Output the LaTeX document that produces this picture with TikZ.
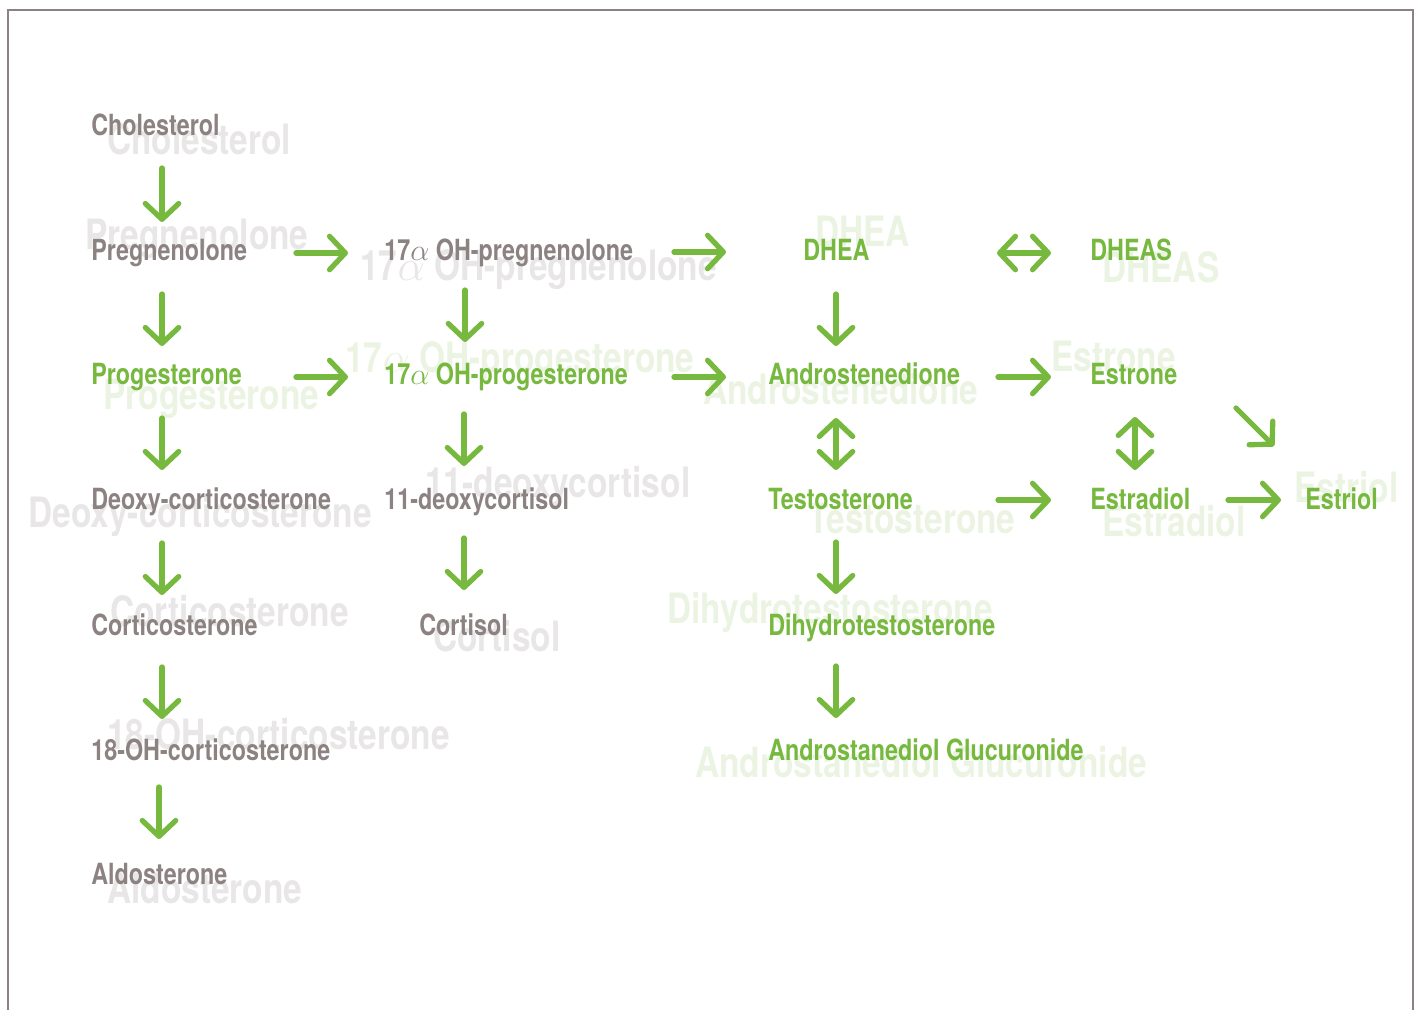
\documentclass[tikz,border=0pt]{standalone}
\usepackage{fontspec}
\usepackage{xcolor}
\usepackage{tikz}
\usetikzlibrary{arrows.meta}
\newfontfamily\chemfont[FakeStretch=0.8]{TeX Gyre Heros}
\definecolor{txtgray}{HTML}{8B8281}
\definecolor{txtgreen}{HTML}{77B83F}
\definecolor{ghostgray}{HTML}{E8E6E6}
\definecolor{ghostgreen}{HTML}{EBF4E2}
\tikzset{lbl/.style={anchor=base west,inner sep=0pt,font=\chemfont\bfseries\fontsize{16.6}{18}\selectfont},
  ghost/.style={anchor=base west,inner sep=0pt,font=\chemfont\bfseries\fontsize{23.8}{26}\selectfont},
  flow/.style={->,draw=txtgreen,line width=3pt,line cap=round},
  both/.style={<->,draw=txtgreen,line width=3pt,line cap=round}}

\begin{document}
\begin{tikzpicture}[x=0.02cm,y=-0.02cm,>={Straight Barb[length=9pt,width=19pt,line cap=round,line join=round]}]
    \useasboundingbox (0,0) rectangle (1418,1010);
    \draw [txtgray,line width=0.8pt] (8,1010) -- (8,10) -- (1413,10) -- (1413,1010);

    % faint names behind
    \node[ghost,ghostgray] (cholbg) at (107,155) {Cholesterol};
    \node[ghost,ghostgray] (pregbg) at (85,250) {Pregnenolone};
    \node[ghost,ghostgray] (ohpregbg) at (360,281) {17$\alpha$ OH-pregnenolone};
    \node[ghost,ghostgreen] (dheabg) at (815,247) {DHEA};
    \node[ghost,ghostgreen] (dheasbg) at (1102,283) {DHEAS};
    \node[ghost,ghostgreen] (progbg) at (103,410) {Progesterone};
    \node[ghost,ghostgreen] (ohprogbg) at (345,373) {17$\alpha$ OH-progesterone};
    \node[ghost,ghostgreen] (androbg) at (703,405) {Androstenedione};
    \node[ghost,ghostgreen] (estronebg) at (1051,372) {Estrone};
    \node[ghost,ghostgray] (docbg) at (28,527) {Deoxy-corticosterone};
    \node[ghost,ghostgray] (deoxcortbg) at (425,498) {11-deoxycortisol};
    \node[ghost,ghostgreen] (testobg) at (808,534) {Testosterone};
    \node[ghost,ghostgreen] (estradiolbg) at (1102,537) {Estradiol};
    \node[ghost,ghostgreen] (estriolbg) at (1294,502) {Estriol};
    \node[ghost,ghostgray] (corticobg) at (110,626) {Corticosterone};
    \node[ghost,ghostgray] (cortisolbg) at (433,651) {Cortisol};
    \node[ghost,ghostgreen] (dhtbg) at (667,623) {Dihydrotestosterone};
    \node[ghost,ghostgray] (ohcortbg) at (107,749) {18-OH-corticosterone};
    \node[ghost,ghostgreen] (aglucbg) at (695,777) {Androstanediol Glucuronide};
    \node[ghost,ghostgray] (aldobg) at (107,903) {Aldosterone};

    % names
    \node[lbl,txtgray] (chol) at (91,136) {Cholesterol};
    \node[lbl,txtgray] (preg) at (91,261) {Pregnenolone};
    \node[lbl,txtgray] (ohpreg) at (384,261) {17$\alpha$ OH-pregnenolone};
    \node[lbl,txtgreen] (dhea) at (803,261) {DHEA};
    \node[lbl,txtgreen] (dheas) at (1090,261) {DHEAS};
    \node[lbl,txtgreen] (prog) at (91,385) {Progesterone};
    \node[lbl,txtgreen] (ohprog) at (384,385) {17$\alpha$ OH-progesterone};
    \node[lbl,txtgreen] (andro) at (768,385) {Androstenedione};
    \node[lbl,txtgreen] (estrone) at (1090,385) {Estrone};
    \node[lbl,txtgray] (doc) at (91,510) {Deoxy-corticosterone};
    \node[lbl,txtgray] (deoxcort) at (384,510) {11-deoxycortisol};
    \node[lbl,txtgreen] (testo) at (768,510) {Testosterone};
    \node[lbl,txtgreen] (estradiol) at (1090,510) {Estradiol};
    \node[lbl,txtgreen] (estriol) at (1305,510) {Estriol};
    \node[lbl,txtgray] (cortico) at (91,635) {Corticosterone};
    \node[lbl,txtgray] (cortisol) at (419,635) {Cortisol};
    \node[lbl,txtgreen] (dht) at (768,635) {Dihydrotestosterone};
    \node[lbl,txtgray] (ohcort) at (91,760) {18-OH-corticosterone};
    \node[lbl,txtgreen] (agluc) at (768,760) {Androstanediol Glucuronide};
    \node[lbl,txtgray] (aldo) at (91,884) {Aldosterone};

    % arrows
    \draw [flow] ([shift={(71,32)}]chol.base west) -- ([shift={(71,-39)}]preg.base west);
    \draw [flow] ([shift={(71,33)}]preg.base west) -- ([shift={(71,-39)}]prog.base west);
    \draw [flow] ([shift={(71,33)}]prog.base west) -- ([shift={(71,-40)}]doc.base west);
    \draw [flow] ([shift={(71,33)}]doc.base west) -- ([shift={(71,-40)}]cortico.base west);
    \draw [flow] ([shift={(71,32)}]cortico.base west) -- ([shift={(71,-41)}]ohcort.base west);
    \draw [flow] ([shift={(68,27)}]ohcort.base west) -- ([shift={(68,-45)}]aldo.base west);
    \draw [flow] ([shift={(81,29)}]ohpreg.base west) -- ([shift={(81,-43)}]ohprog.base west);
    \draw [flow] ([shift={(80,29)}]ohprog.base west) -- ([shift={(80,-44)}]deoxcort.base west);
    \draw [flow] ([shift={(80,28)}]deoxcort.base west) -- ([shift={(45,-45)}]cortisol.base west);
    \draw [flow] ([shift={(33,33)}]dhea.base west) -- ([shift={(68,-39)}]andro.base west);
    \draw [both] ([shift={(68,33)}]andro.base west) -- ([shift={(68,-40)}]testo.base west);
    \draw [flow] ([shift={(68,32)}]testo.base west) -- ([shift={(68,-41)}]dht.base west);
    \draw [flow] ([shift={(68,31)}]dht.base west) -- ([shift={(68,-42)}]agluc.base west);
    \draw [both] ([shift={(45,32)}]estrone.base west) -- ([shift={(45,-40)}]estradiol.base west);
    \draw [flow] ([shift={(205,-8)}]preg.base west) -- ([shift={(-36,-8)}]ohpreg.base west);
    \draw [flow] ([shift={(290,-9)}]ohpreg.base west) -- ([shift={(-77,-9)}]dhea.base west);
    \draw [both] ([shift={(194,-8)}]dhea.base west) -- ([shift={(-39,-8)}]dheas.base west);
    \draw [flow] ([shift={(205,-8)}]prog.base west) -- ([shift={(-36,-8)}]ohprog.base west);
    \draw [flow] ([shift={(290,-8)}]ohprog.base west) -- ([shift={(-42,-8)}]andro.base west);
    \draw [flow] ([shift={(230,-8)}]andro.base west) -- ([shift={(-39,-8)}]estrone.base west);
    \draw [flow] ([shift={(230,-10)}]testo.base west) -- ([shift={(-39,-10)}]estradiol.base west);
    \draw [flow] ([shift={(138,-10)}]estradiol.base west) -- ([shift={(-24,-10)}]estriol.base west);
    \draw [flow] ([shift={(146,23)}]estrone.base west) -- ([shift={(-31,-64)}]estriol.base west);
\end{tikzpicture}
\end{document}
